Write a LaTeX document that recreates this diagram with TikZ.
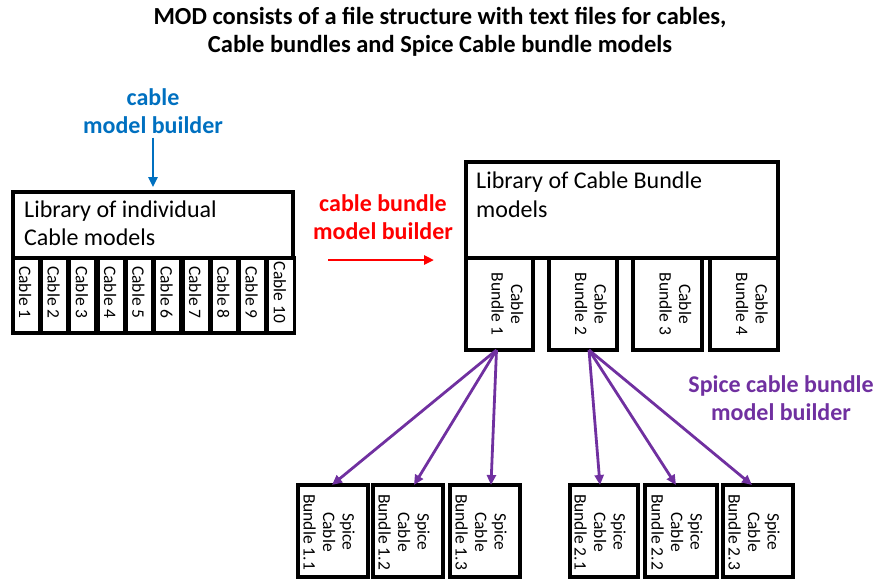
\documentclass[tikz,border=0pt]{standalone}
\usepackage{fontspec}
\setmainfont{Carlito}
\usetikzlibrary{arrows.meta,calc}
\definecolor{officeblue}{HTML}{0070C0}
\definecolor{officered}{HTML}{FF0000}
\definecolor{officepurple}{HTML}{7030A0}
\tikzset{
  frame/.style={draw=black, line width=3.4pt, fill=white, inner sep=0pt, outer sep=0pt},
  libtext/.style={anchor=north west, align=left, inner sep=0pt,
    font=\fontsize{24}{28}\selectfont},
  vtext/.style={rotate=-90, align=center, inner sep=0pt,
    font=\fontsize{17.5}{19.5}\selectfont},
  buildlabel/.style={align=center, inner sep=0pt,
    font=\bfseries\fontsize{24}{28}\selectfont},
  flow/.style={line width=2.8pt, -{Triangle[length=10pt,width=9pt]}},
}
\newcommand{\boxat}[5]{% name, left, top, right, bottom
  \node[frame, minimum width={(#4-#2)*1pt}, minimum height={(#5-#3)*1pt}]
    (#1) at ({(#2+#4)/2},{(#3+#5)/2}) {};}
\begin{document}
\begin{tikzpicture}[x=1pt,y=-1pt]
\useasboundingbox (0,0) rectangle (876,579);

% title
\node[buildlabel, font=\bfseries\fontsize{24.5}{28}\selectfont] (title) at (440,32)
  {MOD consists of a file structure with text files for cables,\\
   Cable bundles and Spice Cable bundle models};

% library of individual cable models
\boxat{lib}{13}{192}{293}{258}
\node[libtext] (libt) at (24,201) {Library of individual\\Cable models};
\foreach \i in {1,...,10} {
  \pgfmathsetmacro{\l}{13+28.3*(\i-1)}
  \pgfmathsetmacro{\r}{\l+26.5}
  \boxat{c\i}{\l}{258}{\r}{333}
  \node[vtext] (c\i t) at ($(c\i)+(-1,-3)$) {Cable \i};
}

% library of cable bundle models
\boxat{blib}{466}{162}{778}{258}
\node[libtext, font=\fontsize{24}{29}\selectfont] (blibt) at (476,172) {Library of Cable Bundle\\models};
\boxat{b1}{466}{258}{533}{350}
\boxat{b2}{549}{258}{617}{350}
\boxat{b3}{633}{258}{702}{350}
\boxat{b4}{710}{258}{778}{350}
\foreach \i in {1,...,4}
  \node[vtext] (b\i t) at ($(b\i)+(8,0)$) {Cable\\Bundle \i};

% spice cable bundle models
\boxat{s11}{298}{485}{368}{577}
\boxat{s12}{373}{485}{443}{577}
\boxat{s13}{450}{485}{520}{577}
\boxat{s21}{570}{485}{638}{577}
\boxat{s22}{645}{485}{717}{577}
\boxat{s23}{723}{485}{793}{577}
\foreach \n/\t in {s11/1.1,s12/1.2,s13/1.3,s21/2.1,s22/2.2,s23/2.3}
  \node[vtext] (\n t) at ($(\n)+(-4,1)$) {Spice\\Cable\\Bundle \t};

% cable model builder
\node[buildlabel, text=officeblue] (cmb) at (153,111) {cable\\model builder};
\draw[flow, line width=2.4pt, officeblue] ([yshift=-4pt]cmb.south) -- ([yshift=5pt]lib.north);

% cable bundle model builder
\node[buildlabel, text=officered] (bmb) at (383,217) {cable bundle\\model builder};
\coordinate (bmbfrom) at (328,260);
\coordinate (bmbto) at (434,260);
\draw[flow, officered] (bmbfrom) -- (bmbto);

% spice cable bundle model builder
\node[buildlabel, text=officepurple] (smb) at (781,398) {Spice cable bundle\\model builder};
\coordinate (b1o) at ([xshift=-3pt]b1.south);
\coordinate (b2o) at ([xshift=6pt]b2.south);
\draw[flow, officepurple] (b1o) -- ([xshift=-1pt]s11.north);
\draw[flow, officepurple] (b1o) -- ([xshift=6pt]s12.north);
\draw[flow, officepurple] (b1o) -- ([xshift=6pt]s13.north);
\draw[flow, officepurple] (b2o) -- ([xshift=-4pt]s21.north);
\draw[flow, officepurple] (b2o) -- ([xshift=-5pt]s22.north);
\draw[flow, officepurple] (b2o) -- ([xshift=-6pt]s23.north);
\end{tikzpicture}
\end{document}
